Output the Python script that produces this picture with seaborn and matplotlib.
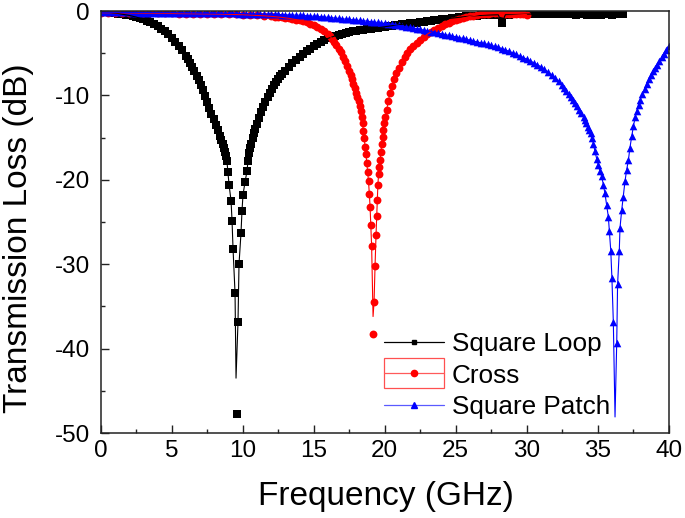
import matplotlib
matplotlib.use("Agg")
import matplotlib.pyplot as plt
import seaborn as sns
from matplotlib.lines import Line2D
from matplotlib.patches import Rectangle
from matplotlib.ticker import MultipleLocator

# =========================
# data (GHz, dB)
# =========================
loop_freq = [
    0.0, 0.25, 0.5, 0.75, 1.0, 1.25, 1.5, 1.75, 2.0, 2.25,
    2.5, 2.75, 3.0, 3.25, 3.5, 3.75, 4.0, 4.25, 4.5, 4.75,
    5.0, 5.25, 5.5, 5.75, 6.0, 6.15, 6.3, 6.45, 6.6, 6.75,
    6.9, 7.05, 7.2, 7.35, 7.5, 7.65, 7.8, 7.95, 8.1, 8.25,
    8.4, 8.5, 8.6, 8.68, 8.75, 8.82, 8.89, 8.96, 9.04, 9.18,
    9.25, 9.32, 9.46, 9.6, 9.67, 9.74, 9.88, 9.95, 10.02, 10.16,
    10.3, 10.37, 10.44, 10.52, 10.6, 10.7, 10.8, 10.9, 11.0, 11.15,
    11.3, 11.45, 11.6, 11.75, 11.9, 12.05, 12.2, 12.35, 12.5, 12.65,
    12.8, 13.0, 13.25, 13.5, 13.75, 14.0, 14.25, 14.5, 14.75, 15.0,
    15.25, 15.5, 15.75, 16.0, 16.25, 16.5, 16.75, 17.0, 17.25, 17.5,
    17.75, 18.0, 18.25, 18.5, 18.75, 19.0, 19.25, 19.5, 19.75, 20.0,
    20.25, 20.5, 20.75, 21.0, 21.25, 21.5, 21.75, 22.0, 22.25, 22.5,
    22.75, 23.0, 23.25, 23.5, 23.75, 24.0, 24.25, 24.5, 24.75, 25.0,
    25.25, 25.5, 25.75, 26.0, 26.25, 26.5, 26.75, 27.0, 27.25, 27.5,
    27.75, 28.0, 28.25, 28.5, 28.75, 29.0, 29.25, 29.5, 29.75, 30.0,
    30.25, 30.5, 30.75, 31.0, 31.25, 31.5, 31.75, 32.0, 32.25, 32.5,
    32.75, 33.0, 33.25, 33.5, 33.75, 34.0, 34.25, 34.5, 34.75, 35.0,
    35.25, 35.5, 35.75, 36.0, 36.25, 36.5, 36.75,
]
loop_loss = [
    -0.10, -0.12, -0.15, -0.20, -0.25, -0.30, -0.38, -0.45, -0.52, -0.62,
    -0.72, -0.85, -1.00, -1.17, -1.36, -1.58, -1.83, -2.10, -2.42, -2.78,
    -3.18, -3.62, -4.12, -4.68, -5.30, -5.70, -6.15, -6.60, -7.10, -7.65,
    -8.20, -8.80, -9.40, -10.05, -10.75, -11.45, -12.15, -12.85, -13.50, -14.15,
    -14.8, -15.3, -15.8, -16.2, -16.7, -17.2, -17.8, -19.1, -20.6, -22.5,
    -24.9, -28.2, -33.4, -47.7, -36.8, -30.0, -26.3, -23.7, -21.8, -20.3,
    -19.0, -17.8, -16.8, -16.2, -15.7, -15.1, -14.5, -14.0, -13.4, -12.7,
    -12.0, -11.35, -10.75, -10.2, -9.7, -9.25, -8.8, -8.4, -8.05, -7.75,
    -7.45, -7.05, -6.6, -6.2, -5.8, -5.45, -5.1, -4.75, -4.45, -4.15,
    -3.9, -3.65, -3.45, -3.25, -3.1, -2.95, -2.82, -2.7, -2.6, -2.5,
    -2.42, -2.35, -2.28, -2.22, -2.16, -2.1, -2.03, -1.97, -1.91, -1.85,
    -1.79, -1.73, -1.67, -1.62, -1.57, -1.52, -1.47, -1.42, -1.37, -1.31,
    -1.26, -1.21, -1.16, -1.10, -1.05, -0.99, -0.94, -0.89, -0.84, -0.79,
    -0.74, -0.69, -0.65, -0.61, -0.58, -0.55, -0.52, -0.50, -0.48, -0.47,
    -0.46, -0.45, -1.45, -0.43, -0.42, -0.41, -0.40, -0.39, -0.38, -0.37,
    -0.36, -0.36, -0.35, -0.35, -0.35, -0.35, -0.35, -0.38, -0.35, -0.35,
    -0.35, -0.36, -0.38, -0.45, -0.40, -0.36, -0.45, -0.50, -0.42, -0.38,
    -0.50, -0.40, -0.36, -0.45, -0.40, -0.36, -0.35,
]
loop_tip = (9.53, -43.5)   # bottom of the drawn line (no symbol there)

cross_freq = [
    0.0, 0.5, 1.0, 1.5, 2.0, 2.5, 3.0, 3.5, 4.0, 4.5,
    5.0, 5.5, 6.0, 6.5, 7.0, 7.5, 8.0, 8.5, 9.0, 9.5,
    10.0, 10.5, 11.0, 11.5, 12.0, 12.25, 12.5, 12.75, 13.0, 13.25,
    13.5, 13.75, 14.0, 14.25, 14.5, 14.75, 15.0, 15.25, 15.5, 15.75,
    16.0, 16.15, 16.3, 16.45, 16.6, 16.75, 16.9, 17.05, 17.2, 17.35,
    17.5, 17.6, 17.7, 17.8, 17.9, 18.0, 18.08, 18.16, 18.24, 18.31,
    18.38, 18.44, 18.5, 18.56, 18.62, 18.68, 18.74, 18.8, 18.86, 18.92,
    18.97, 19.02, 19.08, 19.15, 19.25, 19.32, 19.39, 19.44, 19.48, 19.52,
    19.57, 19.62, 19.67, 19.73, 19.79, 19.85, 19.9, 19.97, 20.05, 20.14,
    20.25, 20.37, 20.5, 20.65, 20.83, 21.0, 21.2, 21.4, 21.6, 21.8,
    22.0, 22.25, 22.5, 22.75, 23.0, 23.25, 23.5, 23.75, 24.0, 24.25,
    24.5, 24.75, 25.0, 25.25, 25.5, 25.75, 26.0, 26.25, 26.5, 26.75,
    27.0, 27.25, 27.5, 27.75, 28.0, 28.25, 28.5, 28.75, 29.0, 29.25,
    29.5, 29.75, 30.0,
]
cross_loss = [
    -0.20, -0.20, -0.21, -0.22, -0.23, -0.24, -0.25, -0.26, -0.27, -0.28,
    -0.29, -0.30, -0.31, -0.32, -0.33, -0.34, -0.35, -0.37, -0.39, -0.41,
    -0.44, -0.48, -0.52, -0.57, -0.63, -0.67, -0.71, -0.76, -0.81, -0.87,
    -0.94, -1.02, -1.11, -1.22, -1.35, -1.50, -1.68, -1.88, -2.12, -2.40,
    -2.75, -3.0, -3.3, -3.65, -4.05, -4.45, -4.9, -5.4, -5.95, -6.55,
    -7.15, -7.6, -8.1, -8.6, -9.15, -9.7, -10.2, -10.7, -11.25, -11.8,
    -12.5, -13.3, -14.2, -15.1, -16.1, -17.0, -18.0, -19.1, -20.2, -21.7,
    -23.2, -25.4, -27.9, -38.3, -34.5, -30.2, -26.5, -24.3, -22.4, -20.6,
    -19.3, -18.5, -17.7, -16.7, -15.7, -14.9, -14.1, -13.3, -12.5, -11.7,
    -10.7, -9.75, -8.9, -8.1, -7.4, -6.75, -6.1, -5.5, -5.0, -4.55,
    -4.15, -3.75, -3.4, -3.05, -2.75, -2.48, -2.22, -2.0, -1.78, -1.58,
    -1.4, -1.24, -1.1, -0.97, -0.85, -0.74, -0.64, -0.55, -0.47, -0.40,
    -0.35, -0.31, -0.29, -0.28, -0.28, -0.29, -0.30, -0.31, -0.33, -0.35,
    -0.37, -0.40, -0.43,
]
cross_tip = (19.18, -36.2)

patch_freq = [
    0.0, 0.25, 0.5, 0.75, 1.0, 1.25, 1.5, 1.75, 2.0, 2.25,
    2.5, 2.75, 3.0, 3.25, 3.5, 3.75, 4.0, 4.25, 4.5, 4.75,
    5.0, 5.25, 5.5, 5.75, 6.0, 6.25, 6.5, 6.75, 7.0, 7.25,
    7.5, 7.75, 8.0, 8.25, 8.5, 8.75, 9.0, 9.25, 9.5, 9.75,
    10.0, 10.25, 10.5, 10.75, 11.0, 11.25, 11.5, 11.75, 12.0, 12.25,
    12.5, 12.75, 13.0, 13.25, 13.5, 13.75, 14.0, 14.25, 14.5, 14.75,
    15.0, 15.25, 15.5, 15.75, 16.0, 16.25, 16.5, 16.75, 17.0, 17.25,
    17.5, 17.75, 18.0, 18.25, 18.5, 18.75, 19.0, 19.25, 19.5, 19.75,
    20.0, 20.25, 20.5, 20.75, 21.0, 21.25, 21.5, 21.75, 22.0, 22.25,
    22.5, 22.75, 23.0, 23.25, 23.5, 23.75, 24.0, 24.25, 24.5, 24.75,
    25.0, 25.25, 25.5, 25.75, 26.0, 26.25, 26.5, 26.75, 27.0, 27.25,
    27.5, 27.75, 28.0, 28.25, 28.5, 28.75, 29.0, 29.25, 29.5, 29.75,
    30.0, 30.25, 30.5, 30.75, 31.0, 31.25, 31.5, 31.75, 32.0, 32.25,
    32.5, 32.65, 32.8, 32.95, 33.1, 33.25, 33.4, 33.55, 33.7, 33.85,
    34.0, 34.1, 34.2, 34.3, 34.4, 34.5, 34.6, 34.7, 34.8, 34.93,
    35.04, 35.16, 35.28, 35.4, 35.51, 35.63, 35.75, 35.82, 35.92, 36.0,
    36.1, 36.34, 36.4, 36.52, 36.57, 36.69, 36.8, 36.92, 37.04, 37.16,
    37.27, 37.4, 37.52, 37.64, 37.76, 37.88, 38.0, 38.15, 38.3, 38.45,
    38.6, 38.75, 38.9, 39.05, 39.2, 39.35, 39.5, 39.65, 39.8, 40.0,
]
patch_loss = [
    -0.15, -0.15, -0.15, -0.16, -0.16, -0.16, -0.17, -0.17, -0.17, -0.18,
    -0.18, -0.18, -0.18, -0.19, -0.19, -0.19, -0.19, -0.20, -0.20, -0.20,
    -0.20, -0.21, -0.21, -0.22, -0.22, -0.23, -0.23, -0.24, -0.24, -0.25,
    -0.25, -0.26, -0.26, -0.27, -0.27, -0.28, -0.28, -0.29, -0.29, -0.30,
    -0.30, -0.31, -0.32, -0.33, -0.34, -0.35, -0.36, -0.37, -0.38, -0.40,
    -0.41, -0.43, -0.44, -0.46, -0.47, -0.49, -0.50, -0.53, -0.56, -0.59,
    -0.62, -0.65, -0.68, -0.72, -0.75, -0.79, -0.82, -0.86, -0.90, -0.94,
    -1.00, -1.05, -1.08, -1.11, -1.15, -1.20, -1.25, -1.30, -1.35, -1.40,
    -1.45, -1.51, -1.57, -1.63, -1.70, -1.77, -1.84, -1.92, -2.00, -2.08,
    -2.17, -2.26, -2.35, -2.44, -2.53, -2.62, -2.70, -2.79, -2.88, -2.96,
    -3.05, -3.15, -3.25, -3.35, -3.45, -3.55, -3.65, -3.75, -3.85, -3.96,
    -4.07, -4.18, -4.30, -4.45, -4.60, -4.77, -4.95, -5.13, -5.32, -5.51,
    -5.70, -5.91, -6.13, -6.36, -6.60, -6.90, -7.20, -7.53, -7.90, -8.30,
    -8.75, -9.15, -9.5, -9.85, -10.2, -10.55, -10.9, -11.3, -11.7, -12.1,
    -12.5, -12.9, -13.3, -13.7, -14.1, -14.5, -15.1, -15.7, -16.6, -17.5,
    -18.2, -19.0, -19.6, -20.6, -21.6, -23.0, -24.4, -26.1, -28.4, -31.6,
    -36.8, -39.3, -32.4, -28.4, -25.7, -23.6, -22.0, -20.2, -18.8, -17.7,
    -16.2, -14.8, -13.6, -12.6, -11.8, -11.1, -10.5, -9.85, -9.2, -8.6,
    -8.05, -7.55, -7.1, -6.75, -6.4, -5.95, -5.5, -5.05, -4.65, -4.1,
]
patch_tip = (36.22, -48.1)

labels = ["Square Loop", "Cross", "Square Patch"]
colors = ["black", "#ff0000", "#0000ff"]
markers = ["s", "o", "^"]


def line_path(freq, loss, tip, detached):
    # the drawn line stops at tip; the deepest symbol may sit apart from it
    pts = sorted(zip(freq, loss))
    if detached:
        pts.remove(min(pts, key=lambda p: p[1]))
    pts.append(tip)
    pts.sort()
    return [p[0] for p in pts], [p[1] for p in pts]


sns.set_style("ticks")
plt.rcParams["font.family"] = ["Liberation Sans", "DejaVu Sans"]
plt.rcParams["axes.unicode_minus"] = False
plt.rcParams["text.color"] = "black"
plt.rcParams["axes.labelcolor"] = "black"
plt.rcParams["xtick.color"] = "black"
plt.rcParams["ytick.color"] = "black"

W, H = 685, 518
fig = plt.figure(figsize=(W / 100, H / 100), dpi=100)
ax = fig.add_axes([100.7 / W, 1 - 433 / H, 568 / W, 422 / H])

series = [
    (loop_freq, loop_loss, loop_tip, True, 28),
    (cross_freq, cross_loss, cross_tip, True, 32),
    (patch_freq, patch_loss, patch_tip, False, 30),
]
for (freq, loss, tip, detached, size), c, m in zip(series, colors, markers):
    lx, ly = line_path(freq, loss, tip, detached)
    sns.lineplot(x=lx, y=ly, sort=False, estimator=None, color=c, lw=0.8,
                 ax=ax, legend=False)
    sns.scatterplot(x=freq, y=loss, marker=m, s=size, color=c, edgecolor=c,
                    linewidth=0, ax=ax, legend=False)

ax.set_xlim(0, 40)
ax.set_ylim(-50, 0)
ax.xaxis.set_major_locator(MultipleLocator(5))
ax.xaxis.set_minor_locator(MultipleLocator(2.5))
ax.yaxis.set_major_locator(MultipleLocator(10))
ax.yaxis.set_minor_locator(MultipleLocator(5))
ax.tick_params(which="both", direction="in", top=False, right=False,
               width=1.0, color="#222222", labelcolor="black")
ax.tick_params(which="major", length=5.8)
ax.tick_params(which="minor", length=2.9)
ax.tick_params(axis="x", pad=5.3, labelsize=17.5)
ax.tick_params(axis="y", pad=7.7, labelsize=17.5)
for sp in ax.spines.values():
    sp.set_linewidth(1.1)
    sp.set_color("#222222")

ax.set_xlabel("Frequency (GHz)", fontsize=24, color="black")
ax.set_ylabel("Transmission Loss (dB)", fontsize=24, color="black")
ax.xaxis.set_label_coords(0.502, -0.114)
ax.yaxis.set_label_coords(-0.117, 0.462)

handles = [
    Line2D([], [], color="black", lw=0.9, marker="s", markersize=3.2),
    Line2D([], [], color="#ff5a5a", lw=0.9, marker="o", markersize=4.5,
           markerfacecolor="#ff0000", markeredgecolor="#ff0000"),
    Line2D([], [], color="#5a5aff", lw=0.9, marker="^", markersize=4.8,
           markerfacecolor="#0000ff", markeredgecolor="#0000ff"),
]
leg = ax.legend(handles=handles, labels=labels, loc="upper left",
                bbox_to_anchor=(0.4988, 0.240), frameon=False, fontsize=18.8,
                handlelength=2.3, handletextpad=0.3, labelspacing=0.3,
                borderpad=0, borderaxespad=0)
for t in leg.get_texts():
    t.set_color("black")

# selection box left around the "Cross" legend entry
ax.add_patch(Rectangle((0.4988, 0.1066), 0.1056, 0.0711, transform=ax.transAxes,
                       fill=False, ec="#ff5050", lw=0.9, zorder=5))

fig.savefig("out.png", dpi=100)
